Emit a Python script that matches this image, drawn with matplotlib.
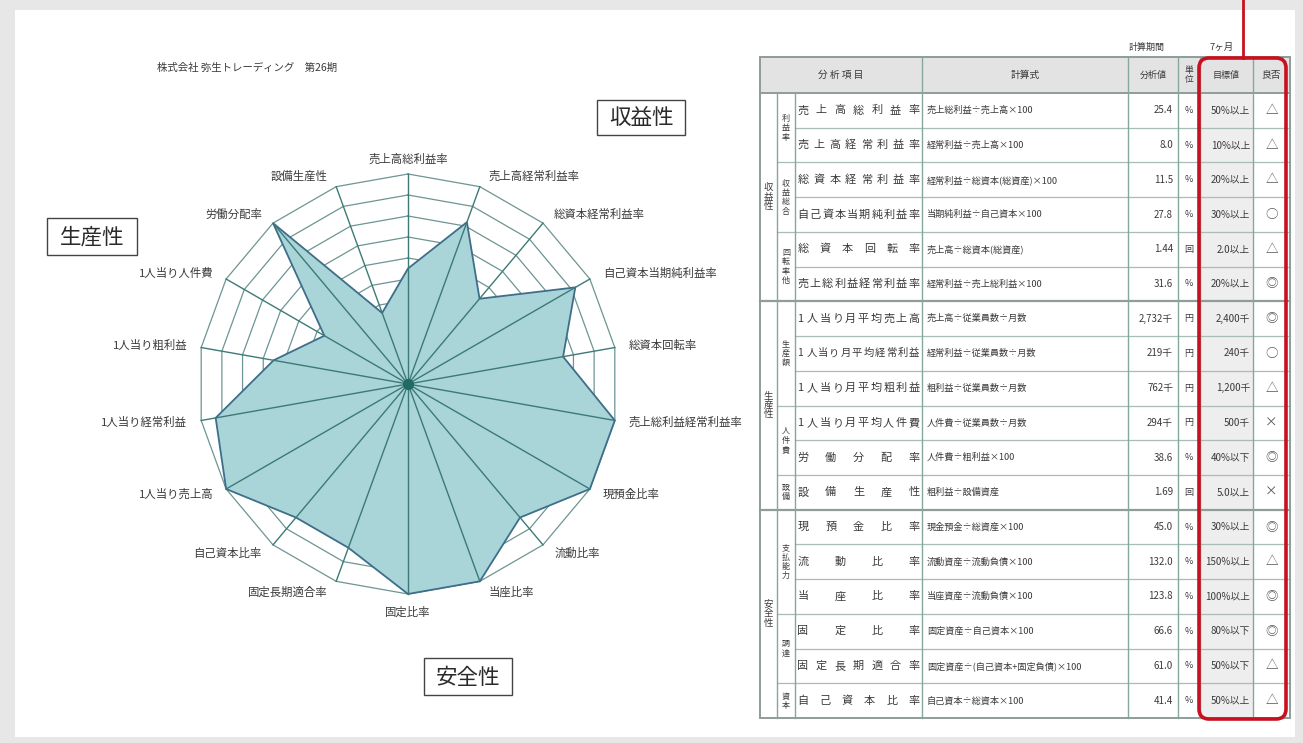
import numpy as np
import matplotlib.pyplot as plt
from matplotlib.patches import Rectangle, FancyBboxPatch

plt.rcParams['font.family'] = ['Noto Sans CJK JP', 'DejaVu Sans']

# radar axes, clockwise from the top
radar_labels = ['売上高総利益率', '売上高経常利益率', '総資本経常利益率', '自己資本当期純利益率',
                '総資本回転率', '売上総利益経常利益率', '現預金比率', '流動比率', '当座比率',
                '固定比率', '固定長期適合率', '自己資本比率', '1人当り売上高', '1人当り経常利益',
                '1人当り粗利益', '1人当り人件費', '労働分配率', '設備生産性']
radar_scores = [5.5, 8.2, 5.3, 9.2, 7.5, 10.0, 10.0, 8.3, 10.0,
                10.0, 8.3, 8.3, 10.0, 9.3, 6.5, 4.6, 10.0, 3.6]
radar_max = 10

# table rows
item_names = ['売上高総利益率', '売上高経常利益率', '総資本経常利益率', '自己資本当期純利益率',
              '総資本回転率', '売上総利益経常利益率', '1人当り月平均売上高', '1人当り月平均経常利益',
              '1人当り月平均粗利益', '1人当り月平均人件費', '労働分配率', '設備生産性',
              '現預金比率', '流動比率', '当座比率', '固定比率', '固定長期適合率', '自己資本比率']
formulas = ['売上総利益÷売上高×100', '経常利益÷売上高×100', '経常利益÷総資本(総資産)×100',
            '当期純利益÷自己資本×100', '売上高÷総資本(総資産)', '経常利益÷売上総利益×100',
            '売上高÷従業員数÷月数', '経常利益÷従業員数÷月数', '粗利益÷従業員数÷月数',
            '人件費÷従業員数÷月数', '人件費÷粗利益×100', '粗利益÷設備資産',
            '現金預金÷総資産×100', '流動資産÷流動負債×100', '当座資産÷流動負債×100',
            '固定資産÷自己資本×100', '固定資産÷(自己資本+固定負債)×100', '自己資本÷総資本×100']
values = ['25.4', '8.0', '11.5', '27.8', '1.44', '31.6', '2,732千', '219千', '762千',
          '294千', '38.6', '1.69', '45.0', '132.0', '123.8', '66.6', '61.0', '41.4']
units = ['%', '%', '%', '%', '回', '%', '円', '円', '円', '円', '%', '回',
         '%', '%', '%', '%', '%', '%']
targets = ['50%以上', '10%以上', '20%以上', '30%以上', '2.0以上', '20%以上', '2,400千', '240千',
           '1,200千', '500千', '40%以下', '5.0以上', '30%以上', '150%以上', '100%以上',
           '80%以下', '50%以下', '50%以上']
grades = ['△', '△', '△', '○', '△', '◎', '◎', '○', '△', '×', '◎', '×',
          '◎', '△', '◎', '◎', '△', '△']
sections = [(0, 6, '収益性'), (6, 12, '生産性'), (12, 18, '安全性')]
subgroups = [(0, 2, '利益率'), (2, 4, '収益総合'), (4, 6, '回転率他'), (6, 9, '生産額'),
             (9, 11, '人件費'), (11, 12, '設備'), (12, 15, '支払能力'), (15, 17, '調達'),
             (17, 18, '資本')]

W, H = 1303, 743
fig = plt.figure(figsize=(W / 100, H / 100), dpi=100)
fig.patch.set_facecolor('#e7e7e7')
ax = fig.add_axes([0, 0, 1, 1])
ax.set_xlim(0, W)
ax.set_ylim(H, 0)
ax.axis('off')

# page
ax.add_patch(Rectangle((15, 10), 1280, 727, fc='white', ec='none', zorder=0))

txt = '#3a3a3a'
ax.text(157, 68, '株式会社 弥生トレーディング　第26期', fontsize=7.5, color=txt,
        ha='left', va='center')

# category boxes
for (bx, by, bw, bh, label) in [(597, 100, 88, 35, '収益性'), (47, 218, 90, 37, '生産性'),
                                (424, 658, 88, 37, '安全性')]:
    ax.add_patch(Rectangle((bx, by), bw, bh, fc='white', ec='#444444', lw=1.0, zorder=3))
    ax.text(bx + bw / 2, by + bh / 2 + 1, label, fontsize=15.5, color='#2a2a2a',
            ha='center', va='center', zorder=4)

# ---- radar chart ----
cx, cy, R = 408, 384, 210
span = 11
size = 2 * span * R / radar_max
ax_r = fig.add_axes([(cx - size / 2) / W, (H - cy - size / 2) / H, size / W, size / H])
ax_r.set_xlim(-span, span)
ax_r.set_ylim(-span, span)
ax_r.axis('off')

n = len(radar_labels)
theta = np.arange(n) * 2 * np.pi / n
closed = np.append(theta, theta[0])
for k in range(1, radar_max + 1):
    ax_r.plot(k * np.sin(closed), k * np.cos(closed), color='#6d9593', lw=0.9, zorder=1)

scores = np.array(radar_scores + radar_scores[:1])
ax_r.fill(scores * np.sin(closed), scores * np.cos(closed), fc='#a9d4d8', ec='#3d6e8a',
          lw=1.3, zorder=2)
for t in theta:
    ax_r.plot([0, radar_max * np.sin(t)], [0, radar_max * np.cos(t)], color='#3c7a77',
              lw=1.0, zorder=3)
ax_r.plot(0, 0, 'o', ms=7, color='#1f6b64', zorder=4)

for t, label in zip(theta, radar_labels):
    s, c = np.sin(t), np.cos(t)
    if abs(s) < 1e-6:
        dx, dy, ha = 0, (15 if c > 0 else -18), 'center'
    else:
        dx = (6 + 8 * abs(s)) * np.sign(s)
        dy = 11 * c
        ha = 'left' if s > 0 else 'right'
    ax_r.annotate(label, xy=(radar_max * s, radar_max * c), xytext=(dx, dy),
                  textcoords='offset pixels', ha=ha, va='center', fontsize=8.2, color=txt)

# ---- table ----
cols = [760, 777, 795, 922, 1128, 1178, 1200, 1253, 1290]
top, head_bot, bottom = 57, 93, 718
nrows = len(item_names)
row_h = (bottom - head_bot) / nrows
row_y = [head_bot + i * row_h for i in range(nrows + 1)]

line_c = '#a8bdb7'
major_c = '#86a79e'
sect_c = '#8f9c99'

ax.add_patch(Rectangle((cols[0], top), cols[-1] - cols[0], head_bot - top, fc='#e3e3e3',
                       ec='none', zorder=1))
ax.add_patch(Rectangle((cols[6], head_bot), cols[7] - cols[6], bottom - head_bot, fc='#eeeeee',
                       ec='none', zorder=1))

# horizontal lines
for i in range(1, nrows):
    x0 = cols[2]
    if any(i == g[0] for g in subgroups):
        x0 = cols[1]
    lw, c = 0.9, line_c
    if any(i == s[0] for s in sections):
        x0, lw, c = cols[0], 1.6, sect_c
    ax.plot([x0, cols[-1]], [row_y[i], row_y[i]], color=c, lw=lw, zorder=2)
ax.plot([cols[0], cols[-1]], [head_bot, head_bot], color=sect_c, lw=1.4, zorder=2)

# vertical lines
for x in cols[3:-1]:
    ax.plot([x, x], [top, bottom], color=major_c, lw=1.0, zorder=2)
for x in cols[1:3]:
    ax.plot([x, x], [head_bot, bottom], color=major_c, lw=1.0, zorder=2)
ax.add_patch(Rectangle((cols[0], top), cols[-1] - cols[0], bottom - top, fc='none',
                       ec=sect_c, lw=1.4, zorder=2))

# header
hy = (top + head_bot) / 2
ax.text((cols[0] + cols[3]) / 2, hy, '分 析 項 目', fontsize=7, color=txt, ha='center', va='center')
ax.text((cols[3] + cols[4]) / 2, hy, '計算式', fontsize=7, color=txt, ha='center', va='center')
ax.text((cols[4] + cols[5]) / 2, hy, '分析値', fontsize=6.5, color=txt, ha='center', va='center')
ax.text((cols[5] + cols[6]) / 2, hy, '単\n位', fontsize=6.3, color=txt, ha='center', va='center',
        linespacing=1.0)
ax.text((cols[6] + cols[7]) / 2, hy, '目標値', fontsize=6.5, color=txt, ha='center', va='center')
ax.text((cols[7] + cols[8]) / 2, hy, '良否', fontsize=7, color=txt, ha='center', va='center')
ax.text(1147, 47, '計算期間', fontsize=6.5, color=txt, ha='center', va='center')
ax.text(1222, 47, '7ヶ月', fontsize=6.8, color=txt, ha='center', va='center')

# vertical group labels
for (a, b, label) in sections:
    ax.text((cols[0] + cols[1]) / 2, (row_y[a] + row_y[b]) / 2, '\n'.join(label), fontsize=6.8,
            color=txt, ha='center', va='center', linespacing=1.05)
for (a, b, label) in subgroups:
    ax.text((cols[1] + cols[2]) / 2, (row_y[a] + row_y[b]) / 2, '\n'.join(label), fontsize=5.8,
            color=txt, ha='center', va='center', linespacing=1.05)

# rows: item names spread evenly across the cell
for i in range(nrows):
    ym = (row_y[i] + row_y[i + 1]) / 2
    name = item_names[i]
    fs = 8 if len(name) <= 10 else 7.4
    x_first = 803 if not name[0].isdigit() else 800
    xs = np.linspace(x_first, 914, len(name))
    for ch, x in zip(name, xs):
        ax.text(x, ym, ch, fontsize=fs, color=txt, ha='center', va='center')
    ax.text(cols[3] + 5, ym, formulas[i], fontsize=6.6, color=txt, ha='left', va='center')
    ax.text(cols[5] - 5, ym, values[i], fontsize=7, color=txt, ha='right', va='center')
    ax.text((cols[5] + cols[6]) / 2, ym, units[i], fontsize=6.5, color=txt, ha='center', va='center')
    ax.text(cols[7] - 3, ym, targets[i], fontsize=7, color=txt, ha='right', va='center')
    ax.text((cols[7] + cols[8]) / 2, ym, grades[i], fontsize=9, color='#555555', ha='center',
            va='center')

# red highlight around target / grade columns
ax.add_patch(FancyBboxPatch((1199, 58), 87, 661, boxstyle='round,pad=0,rounding_size=10',
                            fc='none', ec='#c8101e', lw=2.6, zorder=5))
ax.plot([1243, 1243], [0, 58], color='#c8101e', lw=2.0, zorder=5)

fig.savefig('out.png', dpi=100, facecolor=fig.get_facecolor())
